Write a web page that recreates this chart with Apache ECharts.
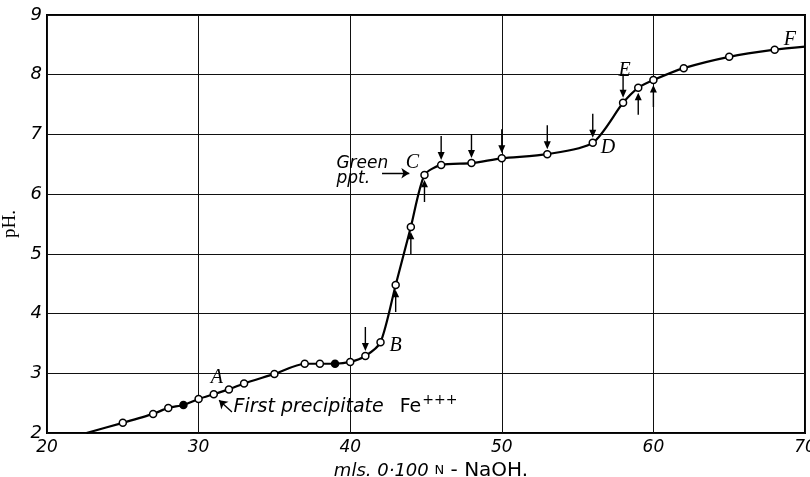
<!DOCTYPE html>
<html>
<head>
<meta charset="utf-8">
<script src="https://cdn.jsdelivr.net/npm/echarts@6/dist/echarts.min.js"></script>
<style>html,body{margin:0;padding:0;background:#fff}#c{width:810px;height:477px}</style>
</head>
<body>
<div id="c"></div>
<script>
// Curve (line drawn through measurements, with its ends at the frame)
const curveX  = [22.6, 25, 27, 28, 29, 30, 31, 32, 33, 35, 37, 38, 39, 40, 41, 42, 43, 44, 44.9, 46, 48, 50, 53, 56, 58, 59, 60, 62, 65, 68, 70];
const curvePH = [2.0, 2.17, 2.32, 2.42, 2.47, 2.57, 2.65, 2.73, 2.83, 2.99, 3.16, 3.16, 3.16, 3.19, 3.29, 3.52, 4.48, 5.45, 6.32, 6.49, 6.52, 6.6, 6.67, 6.86, 7.53, 7.78, 7.91, 8.11, 8.3, 8.42, 8.47];
// measured points (all except curve ends)
const measuredX = [25, 27, 28, 29, 30, 31, 32, 33, 35, 37, 38, 39, 40, 41, 42, 43, 44, 44.9, 46, 48, 50, 53, 56, 58, 59, 60, 62, 65, 68];
const filledX = [29, 39];
const downArrowX = [41, 46, 48, 50, 53, 56, 58];
const upArrowX = [43, 44, 44.9, 59, 60];
const xTicks = [20, 30, 40, 50, 60, 70];
const yTicks = [2, 3, 4, 5, 6, 7, 8, 9];
const letterLabels = [['A', 31.2, 2.92], ['B', 43.0, 3.46], ['C', 44.1, 6.52], ['D', 57.0, 6.77], ['E', 58.1, 8.06], ['F', 69.0, 8.58]];

function phAt(x) { return curvePH[curveX.indexOf(x)]; }

const pts = measuredX.map(x => ({
  value: [x, phAt(x)],
  itemStyle: filledX.includes(x) ? { color: '#000' } : undefined
}));
const downPath = 'path://M2.8,0 L4.2,0 L4.2,16 L7,16 L3.5,24 L0,16 L2.8,16 Z';
const upPath = 'path://M3.5,0 L7,8 L4.2,8 L4.2,24 L2.8,24 L2.8,8 L0,8 Z';
const textItem = { color: '#000', opacity: 1 };

const chart = echarts.init(document.getElementById('c'));
chart.setOption({
  animation: false,
  grid: { left: 47, right: 5, top: 15, bottom: 44, outerBoundsMode: 'none', containLabel: false,
    show: true, borderColor: '#000', borderWidth: 2, backgroundColor: 'transparent' },
  xAxis: {
    type: 'value', min: 20, max: 70, interval: 10,
    axisLine: { show: false }, axisTick: { show: false },
    splitLine: { lineStyle: { color: '#111', width: 1 } },
    axisLabel: { color: '#000', fontSize: 17, fontStyle: 'italic', fontFamily: 'DejaVu Sans', margin: 6,
      formatter: v => xTicks.includes(v) ? String(v) : '' },
    name: '{i|mls. 0·100 }{s|N}{r| - NaOH.}', nameLocation: 'middle', nameGap: 27,
    nameTextStyle: { padding: [0, 0, 0, 10], rich: {
      i: { fontStyle: 'italic', fontSize: 18, fontFamily: 'DejaVu Sans', color: '#000' },
      s: { fontSize: 13, fontFamily: 'DejaVu Sans', color: '#000' },
      r: { fontSize: 20, fontFamily: 'DejaVu Sans', color: '#000' } } }
  },
  yAxis: {
    type: 'value', min: 2, max: 9, interval: 1,
    axisLine: { show: false }, axisTick: { show: false },
    splitLine: { lineStyle: { color: '#111', width: 1 } },
    axisLabel: { color: '#000', fontSize: 18, fontStyle: 'italic', fontFamily: 'DejaVu Sans', margin: 5,
      formatter: v => yTicks.includes(v) ? String(v) : '' },
    name: 'pH.', nameLocation: 'middle', nameGap: 26, nameRotate: 90,
    nameTextStyle: { fontSize: 19, fontFamily: 'Liberation Serif', color: '#000' }
  },
  series: [
    { type: 'line', data: curveX.map((x, i) => [x, curvePH[i]]), showSymbol: false,
      smooth: 0.25, lineStyle: { color: '#000', width: 2.2 }, z: 2 },
    { type: 'scatter', data: pts, symbol: 'circle', symbolSize: 7,
      itemStyle: { color: '#fff', borderColor: '#000', borderWidth: 1.5, opacity: 1 }, z: 3 },
    { type: 'scatter', data: downArrowX.map(x => [x, phAt(x)]), symbol: downPath, symbolSize: [7, 24],
      symbolOffset: [0, -17], itemStyle: { color: '#000', opacity: 1 }, z: 4 },
    { type: 'scatter', data: upArrowX.map(x => [x, phAt(x)]), symbol: upPath, symbolSize: [7, 22],
      symbolOffset: [0, 16], itemStyle: { color: '#000', opacity: 1 }, z: 4 },
    { type: 'scatter', data: letterLabels.map(l => ({ value: [l[1], l[2]], name: l[0] })), symbolSize: 0,
      itemStyle: textItem,
      label: { show: true, position: 'inside', formatter: p => p.name, color: '#000', fontSize: 20,
        fontStyle: 'italic', fontFamily: 'Liberation Serif' }, z: 5 },
    { type: 'scatter', data: [
        { value: [40.8, 6.52], name: 'Green' },
        { value: [40.2, 6.26], name: 'ppt.' } ], symbolSize: 0,
      itemStyle: textItem,
      label: { show: true, position: 'inside', formatter: p => p.name, color: '#000', fontSize: 17,
        fontStyle: 'italic', fontFamily: 'DejaVu Sans' }, z: 5 },
    { type: 'scatter', data: [{ value: [32.3, 2.44], name: 'First precipitate' }], symbolSize: 0,
      itemStyle: textItem,
      label: { show: true, position: 'right', distance: 0,
        formatter: '{i|First precipitate}{f|Fe}{p|+++}',
        rich: { i: { fontSize: 19, fontStyle: 'italic', fontFamily: 'DejaVu Sans', color: '#000' },
                f: { fontSize: 19, fontFamily: 'DejaVu Sans', color: '#000', padding: [0, 0, 0, 16] },
                p: { fontSize: 14, fontFamily: 'DejaVu Sans', color: '#000', verticalAlign: 'top', padding: [0, 0, 12, 1] } } }, z: 5 },
    { type: 'lines', coordinateSystem: 'cartesian2d', symbol: ['none', 'arrow'], symbolSize: 8,
      lineStyle: { color: '#000', width: 1.3, opacity: 1 },
      data: [ { coords: [[42.1, 6.35], [43.9, 6.35]] }, { coords: [[32.2, 2.35], [31.35, 2.55]] } ], z: 5 }
  ]
});
</script>
</body>
</html>
